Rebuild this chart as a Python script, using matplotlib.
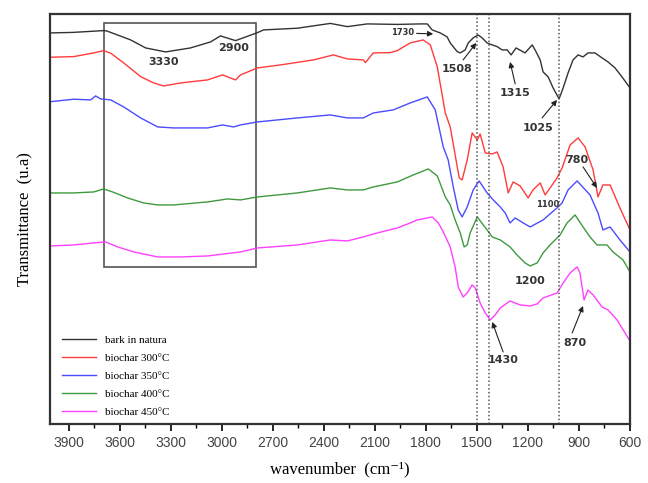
import matplotlib
matplotlib.use("Agg")
import matplotlib.pyplot as plt
from matplotlib.patches import Rectangle
from matplotlib.ticker import MultipleLocator

# FTIR spectra (wavenumber in cm-1, transmittance in arbitrary offset units)
bark_w = [4005, 3877, 3695, 3677, 3536, 3448, 3330, 3184, 3066, 3008, 2919, 2790, 2755, 2555,
          2362, 2262, 2144, 1968, 1833, 1792, 1763, 1716, 1675, 1657, 1616, 1598, 1569, 1551,
          1522, 1493, 1469, 1440, 1410, 1381, 1352, 1322, 1299, 1270, 1217, 1175, 1158, 1128,
          1111, 1081, 1052, 1017, 993, 964, 935, 905, 876, 847, 806, 764, 729, 688, 647, 600]
bark_t = [467, 467.5, 469.3, 469, 460, 452, 448, 452, 458, 464, 459.3, 467.3, 470, 471.7,
          476.5, 473.3, 476, 475.5, 476, 476, 470, 467, 463, 457, 448.3, 447, 450, 457,
          462, 465, 462, 457, 455, 453.3, 450, 450, 445, 452, 447, 455, 450, 440,
          428, 423, 412, 401, 412, 427, 440, 445, 443, 447, 447, 442, 438, 432, 423, 412]

b300_w = [4005, 3871, 3753, 3695, 3653, 3577, 3477, 3401, 3342, 3242, 3084, 2996, 2919, 2890,
          2790, 2655, 2461, 2344, 2262, 2168, 2156, 2109, 2009, 1968, 1892, 1816, 1774, 1733,
          1686, 1657, 1628, 1604, 1587, 1557, 1528, 1498, 1481, 1451, 1410, 1381, 1346, 1316,
          1287, 1246, 1199, 1170, 1128, 1099, 1070, 1029, 999, 952, 905, 864, 817, 788, 759,
          717, 659, 600]
b300_t = [442.7, 443.3, 447, 449.3, 446.7, 437, 423.3, 417, 414, 417, 420, 425, 420, 425,
          432, 435, 440, 445, 441, 440, 437.3, 447, 447.3, 449.3, 457, 460, 455, 433,
          387, 373, 345, 322, 320, 340, 367, 360, 366, 347, 346, 348, 333, 307,
          318, 314, 302, 310, 317, 305, 312, 322, 332, 355, 362, 353, 330, 303, 315,
          315, 292, 270]

b350_w = [4005, 3871, 3771, 3742, 3712, 3653, 3577, 3477, 3377, 3284, 3084, 2996, 2931, 2890,
          2790, 2555, 2362, 2262, 2168, 2109, 1992, 1892, 1792, 1745, 1698, 1669, 1639, 1610,
          1587, 1557, 1522, 1487, 1440, 1404, 1363, 1334, 1305, 1275, 1228, 1187, 1111, 1029,
          999, 964, 911, 835, 788, 759, 717, 659, 600]
b350_t = [398.3, 400.7, 400, 404, 401, 400, 393, 382, 373, 372, 372, 375, 373, 375,
          378, 382, 385, 382, 382, 387, 390, 397, 403, 390, 353, 340, 313, 290,
          283, 293, 310, 319, 307, 300, 293, 287, 277, 282, 277, 273, 280, 292,
          297, 310, 319, 305, 287, 270, 273, 260, 248]

b400_w = [4005, 3871, 3753, 3695, 3642, 3554, 3460, 3377, 3284, 3084, 2966, 2890, 2790, 2555,
          2362, 2262, 2168, 2109, 1968, 1874, 1786, 1733, 1686, 1657, 1628, 1598, 1575, 1557,
          1540, 1498, 1440, 1410, 1363, 1305, 1264, 1217, 1187, 1146, 1111, 1070, 1011, 970,
          923, 876, 835, 794, 735, 700, 641, 600]
b400_t = [307, 307, 308, 311, 308, 302, 297, 295, 295, 298, 301, 300, 303, 307,
          312, 310, 310, 313, 318, 325, 331, 324, 303, 295, 280, 267, 253, 255,
          267, 283, 270, 263, 260, 253, 245, 237, 234, 237, 247, 255, 265, 277,
          285, 273, 263, 255, 255, 248, 240, 228]

b450_w = [4005, 3871, 3753, 3683, 3612, 3518, 3377, 3242, 3084, 2890, 2790, 2555, 2362, 2262,
          2168, 2086, 1968, 1892, 1851, 1792, 1763, 1727, 1698, 1657, 1628, 1610, 1581, 1557,
          1528, 1510, 1481, 1451, 1422, 1393, 1363, 1305, 1246, 1187, 1146, 1111, 1029, 993,
          952, 911, 894, 870, 847, 817, 764, 729, 676, 600]
b450_t = [254, 255, 257, 258, 253, 248, 243, 243, 244, 248, 252, 255, 260, 259,
          263, 267, 272, 277, 280, 282, 283, 277, 268, 253, 233, 213, 203, 207,
          215, 212, 197, 187, 180, 185, 192, 199, 195, 194, 196, 202, 207, 217,
          227, 233, 227, 200, 210, 205, 193, 190, 180, 159]

labels = ["bark in natura", "biochar 300°C", "biochar 350°C", "biochar 400°C", "biochar 450°C"]
colors = ["#333333", "#ff3b3b", "#4b4bff", "#3f9a3f", "#ff40ff"]
marked_bands = [1500, 1430, 1015]

fig = plt.figure(figsize=(6.48, 4.83), dpi=100)
ax = fig.add_axes([0.0772, 0.1222, 0.895, 0.849])

series = [(bark_w, bark_t), (b300_w, b300_t), (b350_w, b350_t), (b400_w, b400_t), (b450_w, b450_t)]
for (w, t), lab, c in zip(series, labels, colors):
    ax.plot(w, t, color=c, lw=1.0, label=lab)

for b in marked_bands:
    ax.axvline(b, color="#555555", ls=(0, (1.0, 1.5)), lw=1.1)

ax.add_patch(Rectangle((2800, 233.3), 890, 244, fill=False, ec="#555555", lw=1.2))

ax.set_xlim(4010, 600)
ax.set_ylim(76, 486)
ax.set_yticks([])
ax.xaxis.set_major_locator(MultipleLocator(300))
ax.xaxis.set_minor_locator(MultipleLocator(150))
ax.tick_params(axis="x", which="major", direction="out", length=5, width=1.2,
               labelsize=10, labelcolor="#444444", pad=4)
ax.tick_params(axis="x", which="minor", direction="out", length=3, width=1.0)
for lbl in ax.get_xticklabels():
    lbl.set_family("Liberation Sans")
for s in ax.spines.values():
    s.set_linewidth(1.6)
    s.set_color("#333333")

serif = ["Liberation Serif", "DejaVu Serif"]
ax.set_xlabel("wavenumber  (cm⁻¹)", family=serif, fontsize=12, labelpad=8)
ax.set_ylabel("Transmittance  (u.a)", family=serif, fontsize=12, labelpad=12)

txt = dict(fontsize=8, fontweight="bold", color="#333333", ha="center", va="center",
           family="DejaVu Sans")
arr = dict(arrowstyle="-|>", color="#222222", lw=0.8, mutation_scale=8, shrinkA=0, shrinkB=0)

ax.text(3342, 438, "3330", **txt)
ax.text(2931, 452, "2900", **txt)
ax.text(1187, 219, "1200", **txt)
ax.text(1087, 295, "1100", **{**txt, "fontsize": 6})
ax.annotate("1730", xy=(1757, 466), xytext=(1939, 467), arrowprops=arr, **{**txt, "fontsize": 6})
ax.annotate("", xy=(1504, 457), xytext=(1581, 440), arrowprops=arr)
ax.text(1616, 431, "1508", **txt)
ax.annotate("", xy=(1305, 438), xytext=(1275, 416), arrowprops=arr)
ax.text(1275, 407, "1315", **txt)
ax.annotate("", xy=(1029, 400), xytext=(1117, 382), arrowprops=arr)
ax.text(1140, 372, "1025", **txt)
ax.annotate("", xy=(794, 312), xytext=(876, 333), arrowprops=arr)
ax.text(911, 340, "780", **txt)
ax.annotate("", xy=(1410, 178), xytext=(1346, 148), arrowprops=arr)
ax.text(1346, 140, "1430", **txt)
ax.annotate("", xy=(876, 194), xytext=(940, 167), arrowprops=arr)
ax.text(923, 157, "870", **txt)

ax.legend(loc="lower left", bbox_to_anchor=(0.01, 0.0), frameon=False, handlelength=3.0,
          labelspacing=0.75, borderaxespad=0.2, prop={"family": "Liberation Serif", "size": 8})

fig.savefig("out.png", dpi=100)
